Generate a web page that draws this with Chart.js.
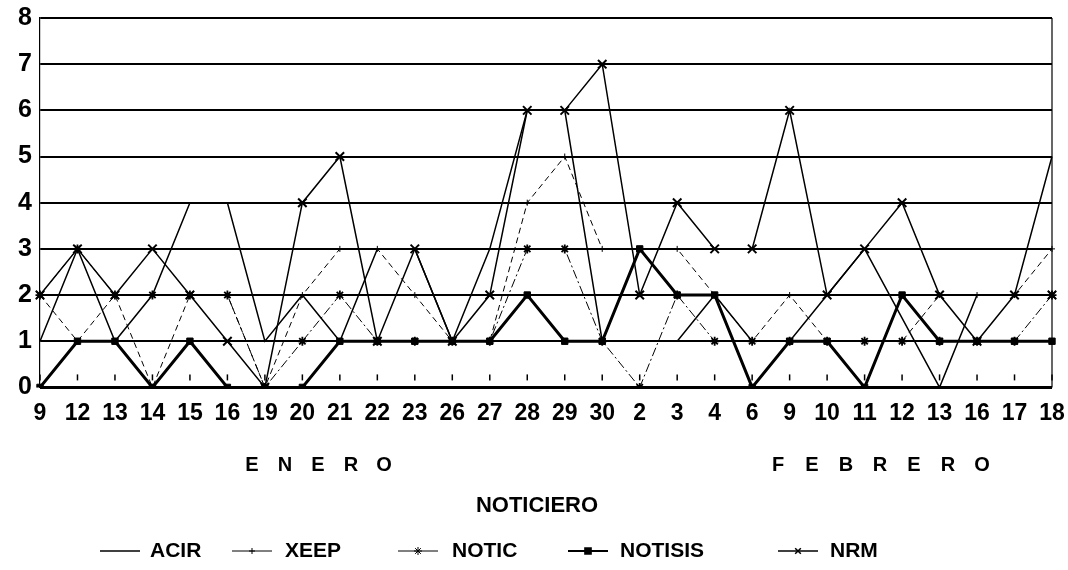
<!DOCTYPE html>
<html>
<head>
<meta charset="utf-8">
<title>Noticiero</title>
<script src="https://cdn.jsdelivr.net/npm/chart.js@4/dist/chart.umd.min.js"></script>
<style>
  html, body { margin: 0; padding: 0; background: #fff; }
  canvas { display: block; }
</style>
</head>
<body>
<canvas id="chart" width="1068" height="570"></canvas>
<script>
// days: enero 9..30, febrero 2..18
const days = ['9', '12', '13', '14', '15', '16', '19', '20', '21', '22', '23', '26', '27', '28', '29', '30',
              '2', '3', '4', '6', '9', '10', '11', '12', '13', '16', '17', '18'];

const acir    = [1, 3, 1, 2, 4, 4, 1, 2, 1, 3, 3, 1, 3, 6, 6, 1, 1, 1, 2, 1, 1, 2, 3, 1.5, 0, 2, 2, 5];
const xeep    = [2, 1, 2, 0, 2, 2, 0, 2, 3, 3, 2, 1, 1, 4, 5, 3, 3, 3, 2, 1, 2, 1, 1, 1, 2, 2, 2, 3];
const notic   = [2, 3, 2, 2, 2, 2, 0, 1, 2, 1, 1, 1, 1, 3, 3, 1, 0, 2, 1, 1, 1, 1, 1, 1, 1, 1, 1, 2];
const notisis = [0, 1, 1, 0, 1, 0, 0, 0, 1, 1, 1, 1, 1, 2, 1, 1, 3, 2, 2, 0, 1, 1, 0, 2, 1, 1, 1, 1];
const nrm     = [2, 3, 2, 3, 2, 1, 0, 4, 5, 1, 3, 1, 2, 6, 6, 7, 2, 4, 3, 3, 6, 2, 3, 4, 2, 1, 2, 2];

const yTicks = [0, 1, 2, 3, 4, 5, 6, 7, 8];

const FONT = '"Liberation Sans", Arial, sans-serif';

function series(label, data, extra) {
    return Object.assign({
        label: label,
        data: data,
        borderColor: '#000',
        backgroundColor: '#000',
        pointBorderColor: '#000',
        pointBackgroundColor: '#000',
        fill: false,
        tension: 0
    }, extra);
}

const datasets = [
    series('ACIR', acir, { borderWidth: 1.5, pointRadius: 0 }),
    series('XEEP', xeep, { borderWidth: 1, borderDash: [6, 4], pointStyle: 'cross', pointRadius: 3, pointBorderWidth: 1 }),
    series('NOTIC', notic, { borderWidth: 1, borderDash: [9, 3, 2, 3], pointStyle: 'star', pointRadius: 4.5, pointBorderWidth: 1.8 }),
    series('NOTISIS', notisis, { borderWidth: 3, pointStyle: 'rect', pointRadius: 4.5, pointBorderWidth: 1 }),
    series('NRM', nrm, { borderWidth: 1.5, pointStyle: 'crossRot', pointRadius: 6, pointBorderWidth: 2 })
];

// little ticks above the 0 line, month names, axis title and the legend
const extras = {
    id: 'extras',
    beforeDatasetsDraw(chart) {
        const ctx = chart.ctx;
        const x = chart.scales.x, y = chart.scales.y;
        const base = y.getPixelForValue(0);
        ctx.save();
        ctx.strokeStyle = '#000';
        ctx.lineWidth = 1.5;
        days.forEach((d, i) => {
            const px = x.getPixelForValue(i);
            ctx.beginPath();
            ctx.moveTo(px, base - 13);
            ctx.lineTo(px, base - 7);
            ctx.stroke();
        });
        // right border
        ctx.lineWidth = 1.2;
        ctx.beginPath();
        ctx.moveTo(chart.chartArea.right, chart.chartArea.top);
        ctx.lineTo(chart.chartArea.right, chart.chartArea.bottom);
        ctx.stroke();
        // heavier base line
        ctx.lineWidth = 3;
        ctx.beginPath();
        ctx.moveTo(chart.chartArea.left, base);
        ctx.lineTo(chart.chartArea.right, base);
        ctx.stroke();
        ctx.restore();
    },
    afterDraw(chart) {
        const ctx = chart.ctx;
        ctx.save();
        ctx.fillStyle = '#000';
        ctx.strokeStyle = '#000';
        ctx.textBaseline = 'middle';
        ctx.textAlign = 'center';

        // month names, spaced out letters
        ctx.font = 'bold 20px ' + FONT;
        const spaced = (word, cx, pitch) => {
            const start = cx - (word.length - 1) * pitch / 2;
            for (let i = 0; i < word.length; i++) ctx.fillText(word[i], start + i * pitch, 465);
        };
        spaced('ENERO', 318, 33);
        spaced('FEBRERO', 880, 34);

        ctx.font = 'bold 22px ' + FONT;
        ctx.fillText('NOTICIERO', 537, 506);

        // legend
        const items = [
            { x: 100, tx: 150 },
            { x: 232, tx: 285 },
            { x: 398, tx: 452 },
            { x: 568, tx: 620 },
            { x: 778, tx: 830 }
        ];
        const ly = 551;
        ctx.textAlign = 'left';
        ctx.font = 'bold 21px ' + FONT;
        chart.data.datasets.forEach((ds, i) => {
            const it = items[i];
            ctx.save();
            ctx.lineWidth = Math.min(ds.borderWidth, 2);
            ctx.setLineDash([]);
            ctx.beginPath();
            ctx.moveTo(it.x, ly);
            ctx.lineTo(it.x + 40, ly);
            ctx.stroke();
            if (ds.pointRadius > 0) {
                Chart.helpers.drawPoint(ctx, {
                    pointStyle: ds.pointStyle,
                    radius: Math.min(ds.pointRadius, 4),
                    rotation: 0,
                    borderWidth: 1
                }, it.x + 20, ly);
            }
            ctx.restore();
            ctx.fillText(ds.label, it.tx, ly);
        });
        ctx.restore();
    }
};

new Chart(document.getElementById('chart'), {
    type: 'line',
    data: { labels: days, datasets: datasets },
    plugins: [extras],
    options: {
        responsive: false,
        animation: false,
        devicePixelRatio: 1,
        layout: { padding: { left: 0, right: 0, top: 18, bottom: 131 } },
        plugins: {
            legend: { display: false },
            tooltip: { enabled: false }
        },
        scales: {
            x: {
                offset: false,
                afterFit(scale) { scale.paddingRight = 16; scale.paddingLeft = 0; },
                grid: {
                    drawTicks: false,
                    color: 'transparent'
                },
                border: { display: false },
                ticks: {
                    autoSkip: false,
                    maxRotation: 0,
                    padding: 12,
                    color: '#000',
                    font: { family: FONT, size: 23, weight: 'bold' }
                }
            },
            y: {
                min: 0,
                max: 8,
                afterFit(scale) { scale.width = 40; },
                afterBuildTicks(scale) { scale.ticks = yTicks.map(v => ({ value: v })); },
                grid: {
                    drawTicks: false,
                    color: '#000',
                    lineWidth: 2
                },
                border: { display: true, color: '#000', width: 1.2 },
                ticks: {
                    padding: 8,
                    color: '#000',
                    font: { family: FONT, size: 25, weight: 'bold', lineHeight: 0.8 }
                }
            }
        }
    }
});
</script>
</body>
</html>
